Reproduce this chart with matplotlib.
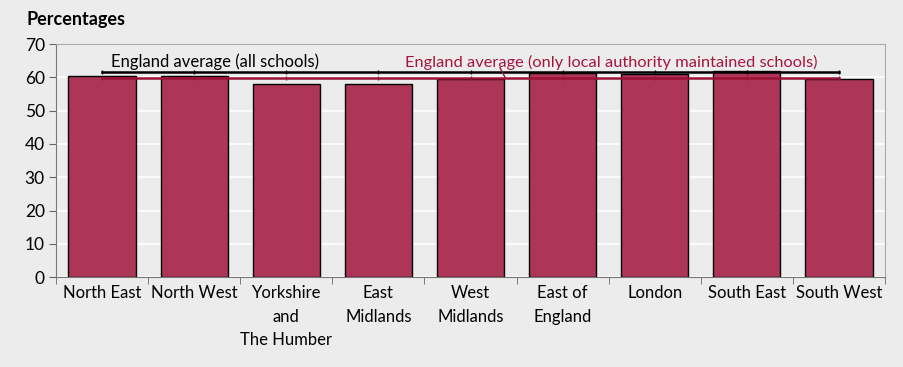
import numpy as np
from matplotlib import pyplot as plt

regions = ['North East', 'North West', 'Yorkshire\nand\nThe Humber', 'East\nMidlands',
           'West\nMidlands', 'East of\nEngland', 'London', 'South East', 'South West']
pct = [60.5, 60.5, 58.0, 57.9, 59.4, 61.2, 61.0, 62.0, 59.5]
avg_all = 61.7   # England average, all schools
avg_la = 59.7    # England average, LA maintained schools only

plt.rcParams['font.family'] = ['Lato', 'DejaVu Sans']
bg = '#ececec'
bar_col = '#ad3557'
line_col = '#9b1238'

fig = plt.figure(figsize=(9.04, 3.67), dpi=100, facecolor=bg)
ax = fig.add_axes([0.062, 0.245, 0.917, 0.635], facecolor=bg)

x = np.arange(len(regions))
ax.bar(x, pct, width=0.73, color=bar_col, edgecolor='black', linewidth=1.0, zorder=2)

# average lines run across the category centres
ax.plot(x, [avg_all] * len(x), color='black', lw=1.8, marker='|', ms=3, zorder=3)
ax.plot(x, [avg_la] * len(x), color=line_col, lw=1.8, marker='|', ms=3, zorder=3)

ax.text(0.1, 64.6, 'England average (all schools)', fontsize=12, color='black', va='center')
ax.text(3.29, 64.6, 'England average (only local authority maintained schools)',
        fontsize=11.8, color='#a6153f', va='center')
ax.plot([4.32, 4.38], [62.9, avg_la], color=line_col, lw=1.0, zorder=3)

ax.set_xlim(-0.5, len(regions) - 0.5)
ax.set_ylim(0, 70)
ax.set_yticks(range(0, 71, 10))
ax.yaxis.grid(True, color='white', lw=1.2, zorder=0)
ax.set_axisbelow(True)

ax.set_xticks(x)
ax.set_xticklabels(regions, fontsize=12, va='top', linespacing=1.55)
ax.set_xticks(np.arange(-0.5, len(regions)), minor=True)
ax.tick_params(axis='x', which='major', length=0, pad=6)
ax.tick_params(axis='x', which='minor', length=5, color='#666666', direction='out')
ax.tick_params(axis='y', labelsize=12.5, length=5, color='#666666', pad=3)

for s in ax.spines.values():
    s.set_color('#aaaaaa')
ax.spines['left'].set_color('#777777')
ax.spines['bottom'].set_color('#777777')

fig.text(0.029, 0.948, 'Percentages', fontsize=13, fontweight='bold', va='center')

fig.savefig('out.png', dpi=100, facecolor=bg)
